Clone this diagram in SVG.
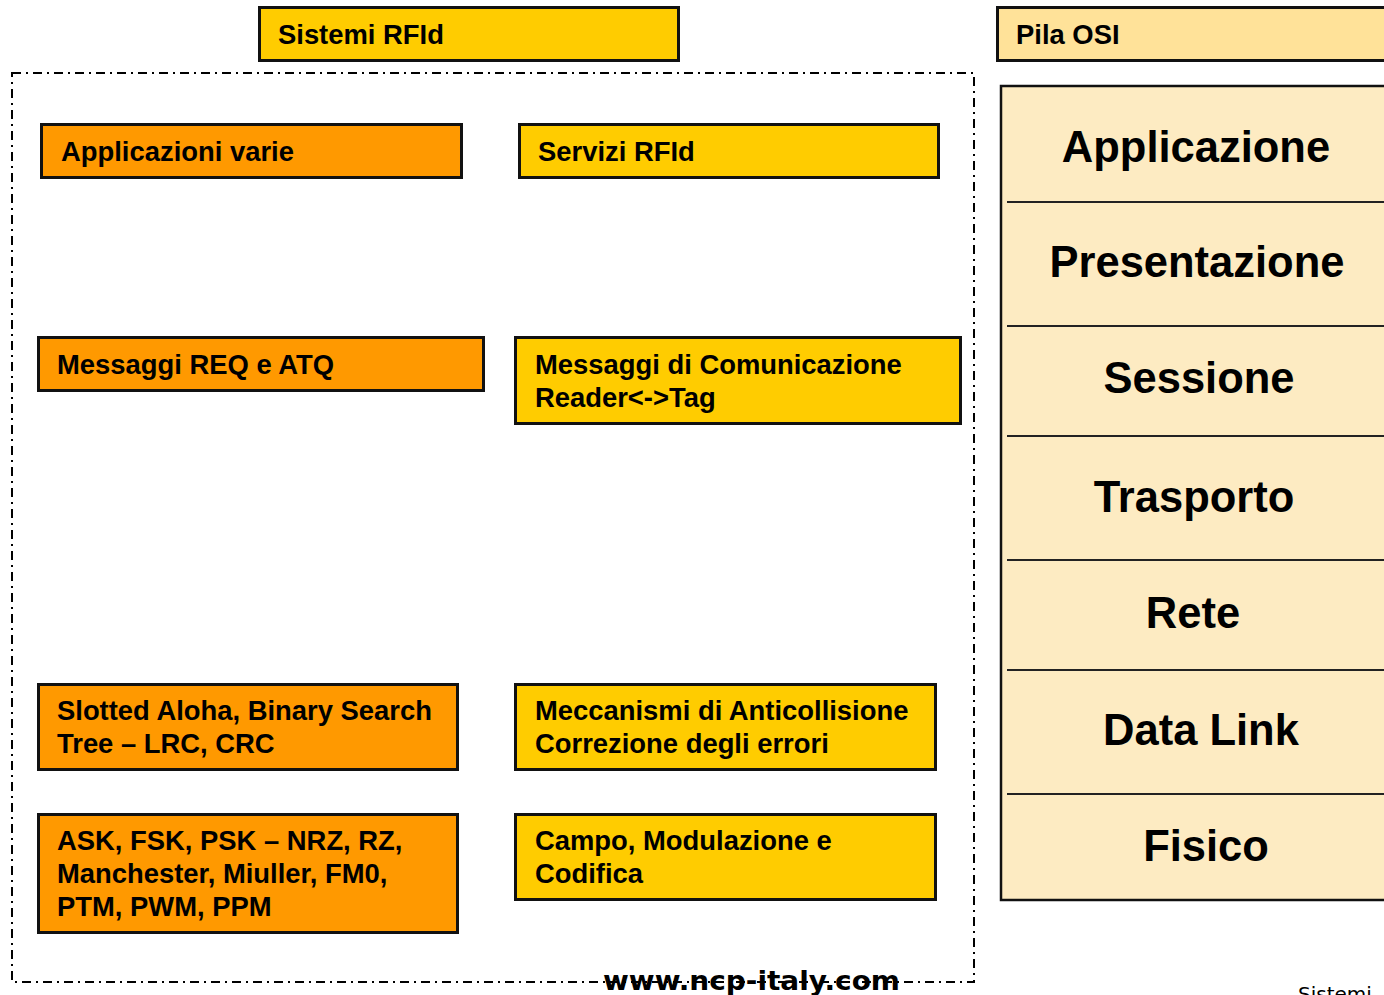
<svg xmlns="http://www.w3.org/2000/svg" width="1384" height="995" viewBox="0 0 1384 995">
<style>
.box{stroke:#111;stroke-width:3}
.y{fill:#FFCC00}
.o{fill:#FF9900}
.t{font-family:"Liberation Sans",Arial,sans-serif;font-weight:bold;font-size:27.4px;fill:#000}
.osi{font-family:"Liberation Sans",Arial,sans-serif;font-weight:bold;font-size:43.5px;fill:#000;text-anchor:middle}
.sep{stroke:#222;stroke-width:2}
</style>
<rect width="1384" height="995" fill="#fff"/>
<g id="frame">
<rect x="12" y="73" width="962" height="909" fill="none" stroke="#000" stroke-width="2" stroke-dasharray="9 5 2 5"/>
</g>
<g id="sistemi-rfid"><rect class="box y" x="259.5" y="7.5" width="419" height="53"/><text class="t" x="278" y="44">Sistemi RFId</text></g>
<g id="pila-osi"><rect class="box" fill="#FFE299" x="997.5" y="7.5" width="400" height="53"/><text class="t" x="1016" y="44">Pila OSI</text></g>
<g id="applicazioni-varie"><rect class="box o" x="41.5" y="124.5" width="420" height="53"/><text class="t" x="61" y="161">Applicazioni varie</text></g>
<g id="servizi-rfid"><rect class="box y" x="519.5" y="124.5" width="419" height="53"/><text class="t" x="538" y="161">Servizi RFId</text></g>
<g id="messaggi-req"><rect class="box o" x="38.5" y="337.5" width="445" height="53"/><text class="t" x="57" y="374">Messaggi REQ e ATQ</text></g>
<g id="messaggi-com"><rect class="box y" x="515.5" y="337.5" width="445" height="86"/><text class="t" x="535" y="374">Messaggi di Comunicazione</text><text class="t" x="535" y="407">Reader&lt;-&gt;Tag</text></g>
<g id="slotted"><rect class="box o" x="38.5" y="684.5" width="419" height="85"/><text class="t" x="57" y="720">Slotted Aloha, Binary Search</text><text class="t" x="57" y="753">Tree – LRC, CRC</text></g>
<g id="meccanismi"><rect class="box y" x="515.5" y="684.5" width="420" height="85"/><text class="t" x="535" y="720">Meccanismi di Anticollisione</text><text class="t" x="535" y="753">Correzione degli errori</text></g>
<g id="ask"><rect class="box o" x="38.5" y="814.5" width="419" height="118"/><text class="t" x="57" y="850">ASK, FSK, PSK – NRZ, RZ,</text><text class="t" x="57" y="883">Manchester, Miuller, FM0,</text><text class="t" x="57" y="916">PTM, PWM, PPM</text></g>
<g id="campo"><rect class="box y" x="515.5" y="814.5" width="420" height="85"/><text class="t" x="535" y="850">Campo, Modulazione e</text><text class="t" x="535" y="883">Codifica</text></g>
<g id="osi-stack">
<rect x="1001" y="86" width="400" height="814" fill="#FDEBC2" stroke="#111" stroke-width="2.5"/>
<line class="sep" x1="1007" y1="202" x2="1384" y2="202"/>
<line class="sep" x1="1007" y1="326" x2="1384" y2="326"/>
<line class="sep" x1="1007" y1="436" x2="1384" y2="436"/>
<line class="sep" x1="1007" y1="560" x2="1384" y2="560"/>
<line class="sep" x1="1007" y1="670" x2="1384" y2="670"/>
<line class="sep" x1="1007" y1="794" x2="1384" y2="794"/>
<text class="osi" x="1196" y="162">Applicazione</text>
<text class="osi" x="1197" y="277">Presentazione</text>
<text class="osi" x="1199" y="393">Sessione</text>
<text class="osi" x="1194" y="512">Trasporto</text>
<text class="osi" x="1193" y="628">Rete</text>
<text class="osi" x="1201" y="745">Data Link</text>
<text class="osi" x="1206" y="861">Fisico</text>
</g>
<g id="connectors"></g>
<text x="603" y="990" font-family="DejaVu Sans,sans-serif" font-weight="bold" font-size="26" textLength="297" lengthAdjust="spacingAndGlyphs">www.ncp-italy.com</text>
<text x="1298" y="1001" font-family="DejaVu Sans,sans-serif" font-size="20">Sistemi</text>
</svg>
